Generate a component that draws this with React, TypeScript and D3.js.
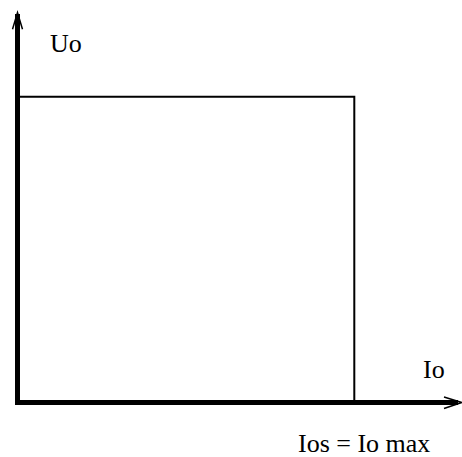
import React, { useEffect, useRef } from "react";
import * as d3 from "d3";

// output characteristic: current (relative to Io max) vs voltage (relative to Uo)
const currentVals = [0, 1, 1];
const voltageVals = [1, 1, 0];

const axisLabels = { y: "Uo", x: "Io", limit: "Ios = Io max" };

const W = 462;
const H = 457;

const App = () => {
  const svgRef = useRef<SVGSVGElement | null>(null);

  useEffect(() => {
    const svg = d3.select(svgRef.current);
    svg.selectAll("*").remove();

    const x = d3.scaleLinear().domain([0, 1]).range([17.5, 354.3]);
    const y = d3.scaleLinear().domain([0, 1]).range([402.5, 96.7]);

    const pts = currentVals.map((c, i) => ({ c, v: voltageVals[i] }));

    // characteristic
    svg.append("path")
      .datum(pts)
      .attr("fill", "none")
      .attr("stroke", "#000")
      .attr("stroke-width", 2)
      .attr("d", d3.line<{ c: number; v: number }>()
        .x(d => x(d.c))
        .y(d => y(d.v))
      );

    // axes (thick shafts + open arrowheads)
    const x0 = x(0);
    const y0 = y(0);

    svg.append("line")
      .attr("x1", x0).attr("y1", y0 + 2.5)
      .attr("x2", x0).attr("y2", 14)
      .attr("stroke", "#000")
      .attr("stroke-width", 5);

    svg.append("path")
      .attr("d", `M${x0 - 5},29.3 L${x0},12.7 L${x0 + 5},29.3`)
      .attr("fill", "none")
      .attr("stroke", "#000")
      .attr("stroke-width", 1.5);

    svg.append("line")
      .attr("x1", x0 - 2.5).attr("y1", y0)
      .attr("x2", 458).attr("y2", y0)
      .attr("stroke", "#000")
      .attr("stroke-width", 5);

    svg.append("path")
      .attr("d", `M444,${y0 - 5.5} L461.7,${y0} L444,${y0 + 6}`)
      .attr("fill", "none")
      .attr("stroke", "#000")
      .attr("stroke-width", 1.5);

    // labels
    const txt = (tx: number, ty: number, s: string) =>
      svg.append("text")
        .attr("x", tx)
        .attr("y", ty)
        .attr("font-family", "Liberation Serif, Times New Roman, serif")
        .attr("font-size", 26)
        .attr("fill", "#000")
        .text(s);

    txt(50, 52.3, axisLabels.y);
    txt(423, 378, axisLabels.x);
    txt(298, 451.7, axisLabels.limit);
  }, []);

  return (
    <svg
      ref={svgRef}
      width={W}
      height={H}
      style={{ position: "absolute", left: 0, top: 0, background: "#fff" }}
    />
  );
};

export default App;
